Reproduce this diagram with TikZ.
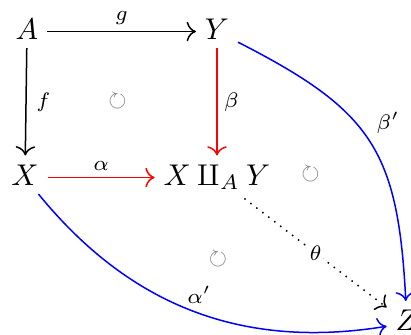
\documentclass[tikz,border=0pt]{standalone}
\usepackage{amssymb}
\usetikzlibrary{cd}
\begin{document}
\begin{tikzpicture}[x=0.33333pt,y=-0.33333pt,
  obj/.style={shape=asymmetrical rectangle, inner sep=0.65ex},
  lab/.style={font=\scriptsize, inner sep=0.5ex, auto},
  arr/.style={-{cm to}, line width=0.5pt},
  circ/.style={text=gray, font=\scriptsize, inner sep=0pt}]
\useasboundingbox (0,0) rectangle (411,334);
\node[obj] (A) at (27,31.5) {$A$};
\node[obj] (Y) at (217,31.5) {$Y$};
\node[obj] (X) at (25,177.5) {$X$};
\node[obj] (P) at (217,177.5) {$X \amalg_A Y$};
\node[obj] (Z) at (407,323) {$Z$};
\draw[arr] (A) -- node[lab] {$g$} (Y);
\draw[arr] (A) -- node[lab, xshift=1pt] {$f$} (X);
\draw[arr, red] (Y) -- node[lab, text=black] {$\beta$} (P);
\draw[arr, red] (X) -- node[lab, text=black] {$\alpha$} (P);
\draw[arr, blue] (Y) to[bend left=30, looseness=1.25] node[lab, pos=0.5, text=black] {$\beta'$} (Z);
\draw[arr, blue] (X) to[bend right=30] node[lab, anchor=south, xshift=2pt, text=black] {$\alpha'$} (Z);
\draw[arr, dotted] (P) -- node[font=\scriptsize, fill=white, inner sep=0.5pt] {$\theta$} (Z);
\node[circ] (c1) at (117.5,101) {$\circlearrowright$};
\node[circ] (c2) at (310.5,174.5) {$\circlearrowright$};
\node[circ] (c3) at (218,259) {$\circlearrowright$};
\end{tikzpicture}
\end{document}
